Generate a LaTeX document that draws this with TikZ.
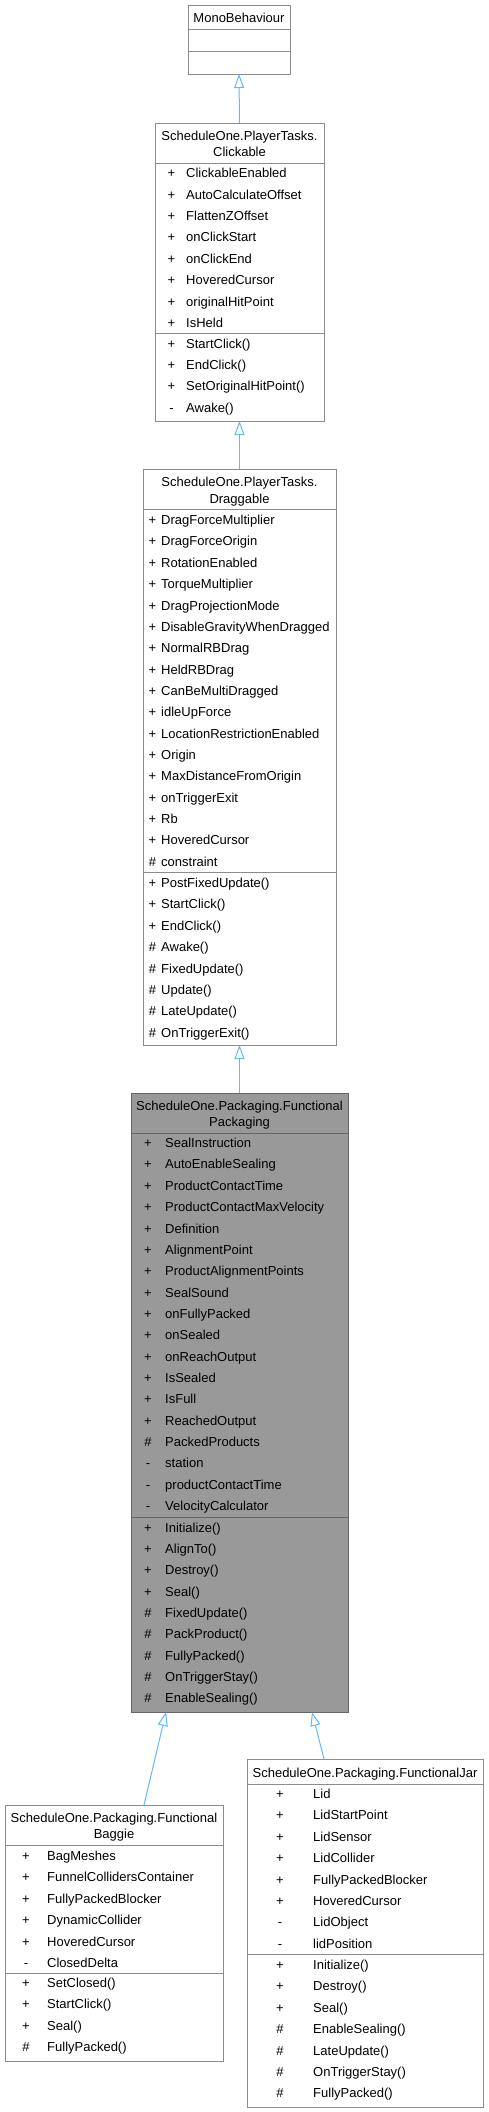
\documentclass[tikz,border=0pt]{standalone}
\usepackage{fontspec}
\setmainfont{Liberation Sans}
\usetikzlibrary{arrows.meta}
\definecolor{boxgray}{HTML}{8C8C8C}
\definecolor{curfill}{HTML}{999999}
\definecolor{curdraw}{HTML}{666666}
\definecolor{inhblue}{HTML}{63B8FF}
\begin{document}
\begin{tikzpicture}[x=1pt,y=-1pt,
  every node/.style={font=\fontsize{13}{15}\selectfont},
  classbox/.style={draw=boxgray, fill=white, line width=1pt, inner sep=0pt, outer sep=0pt, anchor=north west},
  curbox/.style={classbox, draw=curdraw, fill=curfill},
  sepline/.style={draw=boxgray, line width=1pt},
  cursep/.style={draw=curdraw, line width=1pt},
  rowtext/.style={anchor=base west, inner sep=0pt},
  symtext/.style={anchor=base, inner sep=0pt},
  titletext/.style={anchor=base, inner sep=0pt},
  inherit/.style={draw=inhblue, line width=1pt, -{Triangle[open, length=14pt, width=10pt]}}
]
\fill[white] (0,0) rectangle (488,2112);
\useasboundingbox (0,0) rectangle (488,2112);

% ---------------- MonoBehaviour
\node[classbox, minimum width=102pt, minimum height=69pt] (mono) at (188,5) {};
\draw[sepline] (188,29) -- (290,29);
\draw[sepline] (188,51) -- (290,51);
\node[titletext] (mono-t) at (239,22) {MonoBehaviour};

% ---------------- Clickable
\node[classbox, minimum width=169pt, minimum height=298pt] (ck) at (155,123) {};
\draw[sepline] (155,163) -- (324,163);
\draw[sepline] (155,333) -- (324,333);
\node[titletext] (ck-t1) at (239.5,140.6) {ScheduleOne.PlayerTasks.};
\node[titletext] (ck-t2) at (239.5,156.6) {Clickable};
\foreach \s/\t [count=\i] in {+/ClickableEnabled,+/AutoCalculateOffset,+/FlattenZOffset,+/onClickStart,+/onClickEnd,+/HoveredCursor,+/originalHitPoint,+/IsHeld}{
  \node[symtext] (ck-as\i) at (171.5,{177.9+(\i-1)*21.35}) {\s};
  \node[rowtext] (ck-a\i) at (186,{177.9+(\i-1)*21.35}) {\t};
}
\foreach \s/\t [count=\i] in {+/StartClick(),+/EndClick(),+/SetOriginalHitPoint(),-/Awake()}{
  \node[symtext] (ck-ms\i) at (171.5,{348.1+(\i-1)*21.35}) {\s};
  \node[rowtext] (ck-m\i) at (186,{348.1+(\i-1)*21.35}) {\t};
}

% ---------------- Draggable
\node[classbox, minimum width=193pt, minimum height=576pt] (dr) at (143,469) {};
\draw[sepline] (143,509) -- (336,509);
\draw[sepline] (143,872) -- (336,872);
\node[titletext] (dr-t1) at (239.5,486.6) {ScheduleOne.PlayerTasks.};
\node[titletext] (dr-t2) at (239.5,503.6) {Draggable};
\foreach \s/\t [count=\i] in {+/DragForceMultiplier,+/DragForceOrigin,+/RotationEnabled,+/TorqueMultiplier,+/DragProjectionMode,+/DisableGravityWhenDragged,+/NormalRBDrag,+/HeldRBDrag,+/CanBeMultiDragged,+/idleUpForce,+/LocationRestrictionEnabled,+/Origin,+/MaxDistanceFromOrigin,+/onTriggerExit,+/Rb,+/HoveredCursor,\#/constraint}{
  \node[symtext] (dr-as\i) at (152.5,{524.6+(\i-1)*21.35}) {\s};
  \node[rowtext] (dr-a\i) at (161,{524.6+(\i-1)*21.35}) {\t};
}
\foreach \s/\t [count=\i] in {+/PostFixedUpdate(),+/StartClick(),+/EndClick(),\#/Awake(),\#/FixedUpdate(),\#/Update(),\#/LateUpdate(),\#/OnTriggerExit()}{
  \node[symtext] (dr-ms\i) at (152.5,{887.6+(\i-1)*21.35}) {\s};
  \node[rowtext] (dr-m\i) at (161,{887.6+(\i-1)*21.35}) {\t};
}

% ---------------- FunctionalPackaging
\node[curbox, minimum width=217pt, minimum height=619pt] (fp) at (131,1093) {};
\draw[cursep] (131,1133) -- (348,1133);
\draw[cursep] (131,1517) -- (348,1517);
\node[titletext] (fp-t1) at (239.5,1110.6) {ScheduleOne.Packaging.Functional};
\node[titletext] (fp-t2) at (239.5,1126.6) {Packaging};
\foreach \s/\t [count=\i] in {+/SealInstruction,+/AutoEnableSealing,+/ProductContactTime,+/ProductContactMaxVelocity,+/Definition,+/AlignmentPoint,+/ProductAlignmentPoints,+/SealSound,+/onFullyPacked,+/onSealed,+/onReachOutput,+/IsSealed,+/IsFull,+/ReachedOutput,\#/PackedProducts,-/station,-/productContactTime,-/VelocityCalculator}{
  \node[symtext] (fp-as\i) at (148,{1147.6+(\i-1)*21.35}) {\s};
  \node[rowtext] (fp-a\i) at (165,{1147.6+(\i-1)*21.35}) {\t};
}
\foreach \s/\t [count=\i] in {+/Initialize(),+/AlignTo(),+/Destroy(),+/Seal(),\#/FixedUpdate(),\#/PackProduct(),\#/FullyPacked(),\#/OnTriggerStay(),\#/EnableSealing()}{
  \node[symtext] (fp-ms\i) at (148,{1532.1+(\i-1)*21.35}) {\s};
  \node[rowtext] (fp-m\i) at (165,{1532.1+(\i-1)*21.35}) {\t};
}

% ---------------- FunctionalBaggie
\node[classbox, minimum width=218pt, minimum height=256pt] (bag) at (5,1805) {};
\draw[sepline] (5,1845) -- (223,1845);
\draw[sepline] (5,1973) -- (223,1973);
\node[titletext] (bag-t1) at (114,1822.6) {ScheduleOne.Packaging.Functional};
\node[titletext] (bag-t2) at (114,1838.6) {Baggie};
\foreach \s/\t [count=\i] in {+/BagMeshes,+/FunnelCollidersContainer,+/FullyPackedBlocker,+/DynamicCollider,+/HoveredCursor,-/ClosedDelta}{
  \node[symtext] (bag-as\i) at (26,{1860.6+(\i-1)*21.35}) {\s};
  \node[rowtext] (bag-a\i) at (47,{1860.6+(\i-1)*21.35}) {\t};
}
\foreach \s/\t [count=\i] in {+/SetClosed(),+/StartClick(),+/Seal(),\#/FullyPacked()}{
  \node[symtext] (bag-ms\i) at (26,{1987.6+(\i-1)*21.35}) {\s};
  \node[rowtext] (bag-m\i) at (47,{1987.6+(\i-1)*21.35}) {\t};
}

% ---------------- FunctionalJar
\node[classbox, minimum width=236pt, minimum height=348pt] (jar) at (247,1759) {};
\draw[sepline] (247,1784) -- (483,1784);
\draw[sepline] (247,1954) -- (483,1954);
\node[titletext] (jar-t) at (365,1777.6) {ScheduleOne.Packaging.FunctionalJar};
\foreach \s/\t [count=\i] in {+/Lid,+/LidStartPoint,+/LidSensor,+/LidCollider,+/FullyPackedBlocker,+/HoveredCursor,-/LidObject,-/lidPosition}{
  \node[symtext] (jar-as\i) at (280,{1798.6+(\i-1)*21.35}) {\s};
  \node[rowtext] (jar-a\i) at (313,{1798.6+(\i-1)*21.35}) {\t};
}
\foreach \s/\t [count=\i] in {+/Initialize(),+/Destroy(),+/Seal(),\#/EnableSealing(),\#/LateUpdate(),\#/OnTriggerStay(),\#/FullyPacked()}{
  \node[symtext] (jar-ms\i) at (280,{1969.6+(\i-1)*21.35}) {\s};
  \node[rowtext] (jar-m\i) at (313,{1969.6+(\i-1)*21.35}) {\t};
}

% ---------------- inheritance connectors
\coordinate (bagtop) at (144,1805);
\coordinate (fpbotL) at (166,1712);
\coordinate (jartop) at (324,1759);
\coordinate (fpbotR) at (312,1712);
\draw[inherit] (ck.north) -- (mono.south);
\draw[inherit] (dr.north) -- (ck.south);
\draw[inherit] (fp.north) -- (dr.south);
\draw[inherit] (bagtop) -- (fpbotL);
\draw[inherit] (jartop) -- (fpbotR);
\end{tikzpicture}
\end{document}
